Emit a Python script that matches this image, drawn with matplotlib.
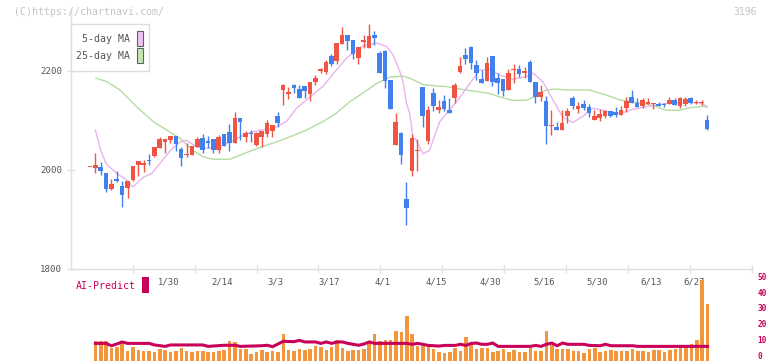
import numpy as np
import matplotlib
matplotlib.use("Agg")
import matplotlib.pyplot as plt
from matplotlib.patches import Rectangle
from matplotlib.transforms import blended_transform_factory, ScaledTranslation

# ---------------- data ----------------
opens = [2005, 2003, 2005, 1993, 1960, 1980, 1966, 1963, 1978, 2009, 2010,
         2019, 2027, 2044, 2056, 2059, 2068, 2041, 2030, 2030, 2046,
         2064, 2057, 2061, 2039, 2071, 2076, 2053, 2105, 2066, 2074,
         2050, 2066, 2073, 2078, 2108, 2161, 2152, 2171, 2162, 2169,
         2152, 2178, 2200, 2198, 2230, 2220, 2255, 2273, 2262, 2225,
         2258, 2245, 2272, 2236, 2239, 2181, 2049, 2074, 1940, 1998,
         2037, 2168, 2058, 2155, 2120, 2139, 2121, 2145, 2198, 2232,
         2247, 2211, 2183, 2180, 2230, 2186, 2183, 2161, 2201, 2203,
         2196, 2218, 2178, 2147, 2139, 2088, 2086, 2080, 2109, 2144,
         2122, 2132, 2126, 2100, 2105, 2108, 2118, 2116, 2111, 2124,
         2146, 2135, 2129, 2133, 2132, 2133, 2132, 2132, 2141, 2129,
         2132, 2144, 2135, 2135, 2100]
highs = [2005, 2034, 2015, 1993, 1980, 1997, 1976, 1976, 2007, 2017, 2019,
         2032, 2045, 2065, 2061, 2068, 2068, 2046, 2054, 2047, 2065,
         2071, 2068, 2061, 2070, 2073, 2092, 2116, 2105, 2078, 2080,
         2076, 2078, 2100, 2090, 2117, 2174, 2168, 2174, 2171, 2169,
         2178, 2191, 2205, 2221, 2233, 2257, 2288, 2273, 2262, 2247,
         2272, 2295, 2280, 2240, 2241, 2181, 2115, 2076, 1974, 2073,
         2061, 2168, 2128, 2165, 2141, 2151, 2145, 2176, 2228, 2245,
         2249, 2222, 2201, 2228, 2230, 2195, 2183, 2203, 2214, 2211,
         2208, 2222, 2178, 2171, 2149, 2120, 2097, 2120, 2125, 2149,
         2137, 2141, 2132, 2120, 2122, 2120, 2118, 2126, 2128, 2147,
         2161, 2144, 2145, 2145, 2134, 2137, 2135, 2146, 2145, 2146,
         2146, 2147, 2141, 2141, 2110]
lows = [2005, 1993, 1990, 1955, 1958, 1975, 1924, 1942, 1976, 1988, 1995,
        2009, 2026, 2044, 2034, 2053, 2038, 2007, 2026, 2030, 2046,
        2034, 2043, 2034, 2034, 2048, 2038, 2053, 2059, 2056, 2056,
        2048, 2046, 2066, 2066, 2086, 2130, 2143, 2154, 2145, 2145,
        2139, 2171, 2196, 2194, 2210, 2214, 2255, 2241, 2223, 2213,
        2245, 2245, 2252, 2195, 2166, 2122, 2049, 2011, 1887, 1988,
        1998, 2086, 2051, 2119, 2115, 2119, 2115, 2135, 2196, 2214,
        2203, 2181, 2176, 2180, 2169, 2153, 2149, 2161, 2176, 2187,
        2186, 2178, 2135, 2139, 2051, 2070, 2080, 2080, 2095, 2122,
        2114, 2120, 2107, 2100, 2099, 2104, 2106, 2107, 2111, 2117,
        2134, 2127, 2125, 2133, 2122, 2129, 2127, 2132, 2130, 2125,
        2128, 2133, 2133, 2131, 2080]
closes = [2005, 2009, 1997, 1960, 1970, 1976, 1948, 1976, 2007, 2017, 2014,
          2017, 2045, 2061, 2061, 2068, 2052, 2024, 2032, 2047, 2061,
          2039, 2053, 2039, 2066, 2048, 2053, 2105, 2097, 2074, 2071,
          2075, 2078, 2095, 2090, 2095, 2171, 2157, 2166, 2145, 2159,
          2178, 2186, 2203, 2218, 2213, 2257, 2273, 2261, 2233, 2247,
          2262, 2271, 2266, 2195, 2180, 2122, 2097, 2029, 1922, 2064,
          2040, 2108, 2120, 2129, 2127, 2122, 2115, 2171, 2209, 2224,
          2216, 2195, 2176, 2216, 2178, 2176, 2159, 2196, 2203, 2193,
          2199, 2178, 2147, 2157, 2088, 2091, 2080, 2095, 2118, 2128,
          2128, 2125, 2115, 2108, 2112, 2118, 2109, 2111, 2120, 2139,
          2134, 2127, 2141, 2137, 2134, 2129, 2130, 2140, 2130, 2144,
          2143, 2135, 2137, 2136, 2082]
volume = [np.nan, 10.6, 10.6, 10.6, 6.4, 7.0, 10.6, 4.2, 6.8, 5.1, 4.2,
          4.2, 3.6, 5.5, 4.9, 3.8, 4.5, 5.9, 4.2, 3.6, 4.0,
          4.0, 3.6, 3.6, 4.2, 5.1, 10.6, 10.0, 5.5, 5.5, 2.3,
          3.8, 4.9, 3.8, 4.2, 3.8, 15.0, 4.9, 4.5, 5.5, 4.7,
          5.5, 7.4, 6.8, 4.9, 6.8, 11.3, 6.2, 4.5, 4.9, 4.9,
          5.5, 9.6, 15.0, 10.6, 11.3, 11.3, 17.0, 16.3, 26.5, 15.0,
          7.4, 7.4, 6.6, 5.7, 3.6, 2.8, 3.8, 6.4, 4.5, 13.4,
          9.6, 5.3, 6.4, 6.4, 3.8, 4.5, 5.5, 3.8, 4.9, 3.6,
          3.6, 6.4, 4.5, 4.5, 17.0, 8.0, 5.5, 5.5, 5.5, 4.0,
          4.5, 3.0, 5.5, 6.0, 3.6, 4.5, 4.9, 4.2, 4.0, 4.5,
          5.5, 4.2, 4.2, 3.8, 4.9, 4.9, 3.8, 4.9, 5.7, 7.2,
          7.4, 9.0, 11.0, 49.5, 34.0]

ma5_idx = [1, 2, 3, 5, 7, 8, 10, 11.5, 13, 15, 16.8, 18, 19.9, 21.7, 24.2,
           26.7, 29.2, 31.7, 34.1, 36.6, 38.5, 41, 43.4, 45.9, 47.8, 49.7,
           50.9, 53.4, 55.3, 56.5, 57.7, 58.3, 59, 59.6, 60.2, 60.8, 62.1,
           63.3, 65.2, 67, 68.6, 70.8, 72.6, 74.5, 76.4, 78.8, 81.3, 82.6,
           84.4, 86.3, 88.1, 90, 91.9, 93.7, 95.6, 97.4, 99.3, 101.2, 103.7,
           106.1, 108.6, 111.1, 113.6, 115]
ma5_val = [2080, 2039, 2012, 1992, 1978, 1965, 1985, 1992, 2012, 2039, 2056,
           2059, 2046, 2043, 2046, 2059, 2073, 2080, 2083, 2097, 2124, 2147,
           2168, 2201, 2225, 2242, 2250, 2256, 2249, 2232, 2200, 2181, 2134,
           2114, 2066, 2059, 2032, 2039, 2097, 2120, 2141, 2174, 2201, 2203,
           2191, 2183, 2188, 2195, 2178, 2141, 2107, 2095, 2108, 2124, 2120,
           2114, 2115, 2122, 2127, 2132, 2135, 2136, 2135, 2128]
ma25_idx = [1.1, 3.1, 5.6, 8.7, 11.8, 14.3, 16.8, 19.2, 21.1, 22.9, 26.1,
            27.9, 31.7, 34.8, 37.2, 40.4, 43.4, 45.9, 48.4, 50.9, 53.4, 55.9,
            58.3, 59.6, 62.1, 64.6, 66.4, 68.9, 71.4, 74.5, 76.4, 78.8, 81.3,
            82.6, 85.0, 86.9, 88.8, 93.1, 96.2, 98.7, 101.2, 104.9, 107.4,
            109.9, 111.7, 114.2, 115]
ma25_val = [2185, 2178, 2161, 2127, 2097, 2080, 2063, 2039, 2026, 2021, 2021,
            2029, 2045, 2056, 2066, 2080, 2097, 2114, 2137, 2155, 2174, 2187,
            2189, 2185, 2172, 2169, 2168, 2163, 2159, 2154, 2147, 2140, 2140,
            2146, 2161, 2163, 2161, 2161, 2151, 2141, 2137, 2130, 2120, 2120,
            2125, 2128, 2126]

ai_idx = [1, 3, 4, 5, 6, 7, 11, 12, 14, 15, 21, 22, 25, 27, 28, 32, 33, 34,
          35, 36, 38, 39, 40, 42, 43, 44, 45, 46, 47, 48, 50, 51, 52, 53, 56,
          59, 60, 61, 63, 65, 66, 68, 69, 70, 71, 72, 73, 74, 75, 76, 82, 83,
          84, 85, 86, 87, 88, 89, 92, 93, 95, 96, 97, 101, 102, 115]
ai_val = [9.1, 9.1, 7.6, 8.7, 10.0, 9.1, 9.1, 8.1, 7.2, 8.1, 8.1, 7.2, 7.9,
          7.9, 7.2, 7.6, 7.9, 7.0, 8.7, 10.4, 10.2, 11.0, 10.0, 10.0, 9.1,
          10.0, 9.1, 10.0, 10.0, 9.1, 7.9, 8.7, 10.0, 9.1, 9.1, 9.1, 8.5, 9.1,
          7.8, 7.4, 7.8, 7.8, 8.5, 7.8, 9.1, 9.3, 8.5, 8.5, 9.3, 7.2, 7.2,
          7.8, 7.2, 8.5, 9.3, 7.6, 9.3, 8.5, 8.5, 7.8, 7.6, 8.5, 7.6, 7.6,
          7.2, 7.2]

date_idx = [15, 25, 35, 45, 55, 65, 75, 85, 95, 105, 113]
date_labels = ["1/30", "2/14", "3/3", "3/17", "4/1", "4/15", "4/30",
               "5/16", "5/30", "6/13", "6/27"]
price_ticks = [1800, 2000, 2200]
vol_ticks = [0, 10, 20, 30, 40, 50]

# ---------------- style ----------------
W, H = 772, 361
RED = "#f05442"
BLUE = "#4280ee"
ORANGE = "#f2963e"
MAGENTA = "#c8005a"
PINK = "#e8b4ec"
GREEN = "#b4dca4"
AXC = "#e0e0e0"
TXT = "#555555"
MONO = "DejaVu Sans Mono"

fig = plt.figure(figsize=(W / 100, H / 100), dpi=100)

# pixel geometry
x0_px, dx_px = 90.0, 5.37          # pixel of candle 0 and spacing
ax_l, ax_r = 70.7, 752.0
p_top, p_bot = 10.0, 268.5
ppy = (p_bot - 70.7) / 400.0        # px per yen

def fx(px):
    return px / W

def fy(py):
    return 1 - py / H

xlim = ((ax_l - x0_px) / dx_px, (ax_r - x0_px) / dx_px)

ax = fig.add_axes([fx(ax_l), fy(p_bot), fx(ax_r - ax_l), (p_bot - p_top) / H])
ax.set_xlim(*xlim)
ax.set_ylim(1800, 1800 + (p_bot - p_top) / ppy)

n = len(closes)
idx = np.arange(n)
o = np.array(opens, float); c = np.array(closes, float)
hi = np.array(highs, float); lo = np.array(lows, float)
up = c >= o
cols = np.where(up, RED, BLUE)

ax.vlines(idx, lo, hi, colors=cols, linewidth=1.0, zorder=3)
body_lo = np.minimum(o, c)
body_h = np.maximum(np.abs(c - o), 1.0 / ppy * 1.2)
ax.bar(idx, body_h, bottom=body_lo, width=0.86, color=cols, linewidth=0, zorder=4)

ax.plot(ma25_idx, ma25_val, color=GREEN, linewidth=1.0, zorder=2)
ax.plot(ma5_idx, ma5_val, color=PINK, linewidth=1.0, zorder=2)

for s in ["top", "right"]:
    ax.spines[s].set_visible(False)
for s in ["left", "bottom"]:
    ax.spines[s].set_color(AXC)
    ax.spines[s].set_linewidth(1.0)
ax.set_yticks(price_ticks)
ax.set_yticklabels([str(t) for t in price_ticks], fontfamily=MONO, fontsize=6.6, color=TXT)
ax.tick_params(axis="y", direction="inout", length=6, width=1, color=AXC, pad=3.2)
grid_step = 62.0 / dx_px
ax.set_xticks(xlim[0] + grid_step * np.arange(1, 12))
ax.set_xticklabels([])
ax.tick_params(axis="x", direction="inout", length=6, width=1, color=AXC)

trans = blended_transform_factory(ax.transData, ax.transAxes)
for i, lab in zip(date_idx, date_labels):
    ax.annotate(lab, xy=(i, 0), xycoords=trans, xytext=(-1.5, -10),
                textcoords="offset points", ha="center", va="center",
                fontfamily=MONO, fontsize=6.4, color=TXT)

# ---------------- volume panel ----------------
v_top, v_bot = 270.0, 361.0
v0_px, ppv = 357.7, (357.7 - 279.0) / 50.0
axv = fig.add_axes([fx(ax_l), 0, fx(ax_r - ax_l), (v_bot - v_top) / H])
axv.set_xlim(*xlim)
vlo = -(v_bot - v0_px) / ppv
axv.set_ylim(vlo, (v0_px - v_top) / ppv)
vol = np.array(volume, float)
axv.bar(idx, vol - vlo, bottom=vlo, width=0.66, color=ORANGE, linewidth=0, zorder=2)
axv.plot(ai_idx, ai_val, color=MAGENTA, linewidth=2.2, zorder=3,
         solid_joinstyle="miter")
for s in axv.spines.values():
    s.set_visible(False)
axv.set_xticks([])
axv.yaxis.tick_right()
axv.set_yticks(vol_ticks)
axv.set_yticklabels([str(t) for t in vol_ticks], fontfamily=MONO, fontsize=5.6,
                    color=MAGENTA, fontweight="bold")
axv.tick_params(axis="y", length=0, pad=4)
shift_up = ScaledTranslation(0, 2.5 / 100, fig.dpi_scale_trans)
for lab in axv.get_yticklabels():
    lab.set_verticalalignment("center_baseline")
    lab.set_transform(lab.get_transform() + shift_up)
axv.patch.set_alpha(0)

# ---------------- texts / legend ----------------
fig.text(fx(14), fy(12), "(C)https://chartnavi.com/", fontfamily=MONO,
         fontsize=7.1, color="#c4c4c4", ha="left", va="center")
fig.text(fx(757), fy(12), "3196", fontfamily=MONO, fontsize=7.0,
         color="#c4c4c4", ha="right", va="center")

fig.patches.append(Rectangle((fx(70.5), fy(71)), fx(78), 47 / H, transform=fig.transFigure,
                             facecolor="white", edgecolor="#dddddd", linewidth=1.0, zorder=5))
fig.text(fx(129.5), fy(39), "5-day MA", fontfamily=MONO, fontsize=7.1, color=TXT,
         ha="right", va="center", zorder=6)
fig.text(fx(129.5), fy(56), "25-day MA", fontfamily=MONO, fontsize=7.1, color=TXT,
         ha="right", va="center", zorder=6)
fig.patches.append(Rectangle((fx(136.5), fy(46)), fx(6), 15 / H, transform=fig.transFigure,
                             facecolor="#f0c4f0", edgecolor="#606060", linewidth=0.8, zorder=6))
fig.patches.append(Rectangle((fx(136.5), fy(63)), fx(6), 15 / H, transform=fig.transFigure,
                             facecolor="#c4e4b4", edgecolor="#606060", linewidth=0.8, zorder=6))

fig.text(fx(76), fy(286), "AI-Predict", fontfamily=MONO, fontsize=7.1,
         color=MAGENTA, ha="left", va="center")
fig.patches.append(Rectangle((fx(142), fy(293)), fx(7), 16 / H, transform=fig.transFigure,
                             facecolor=MAGENTA, edgecolor="none"))

fig.savefig("out.png", dpi=100)
